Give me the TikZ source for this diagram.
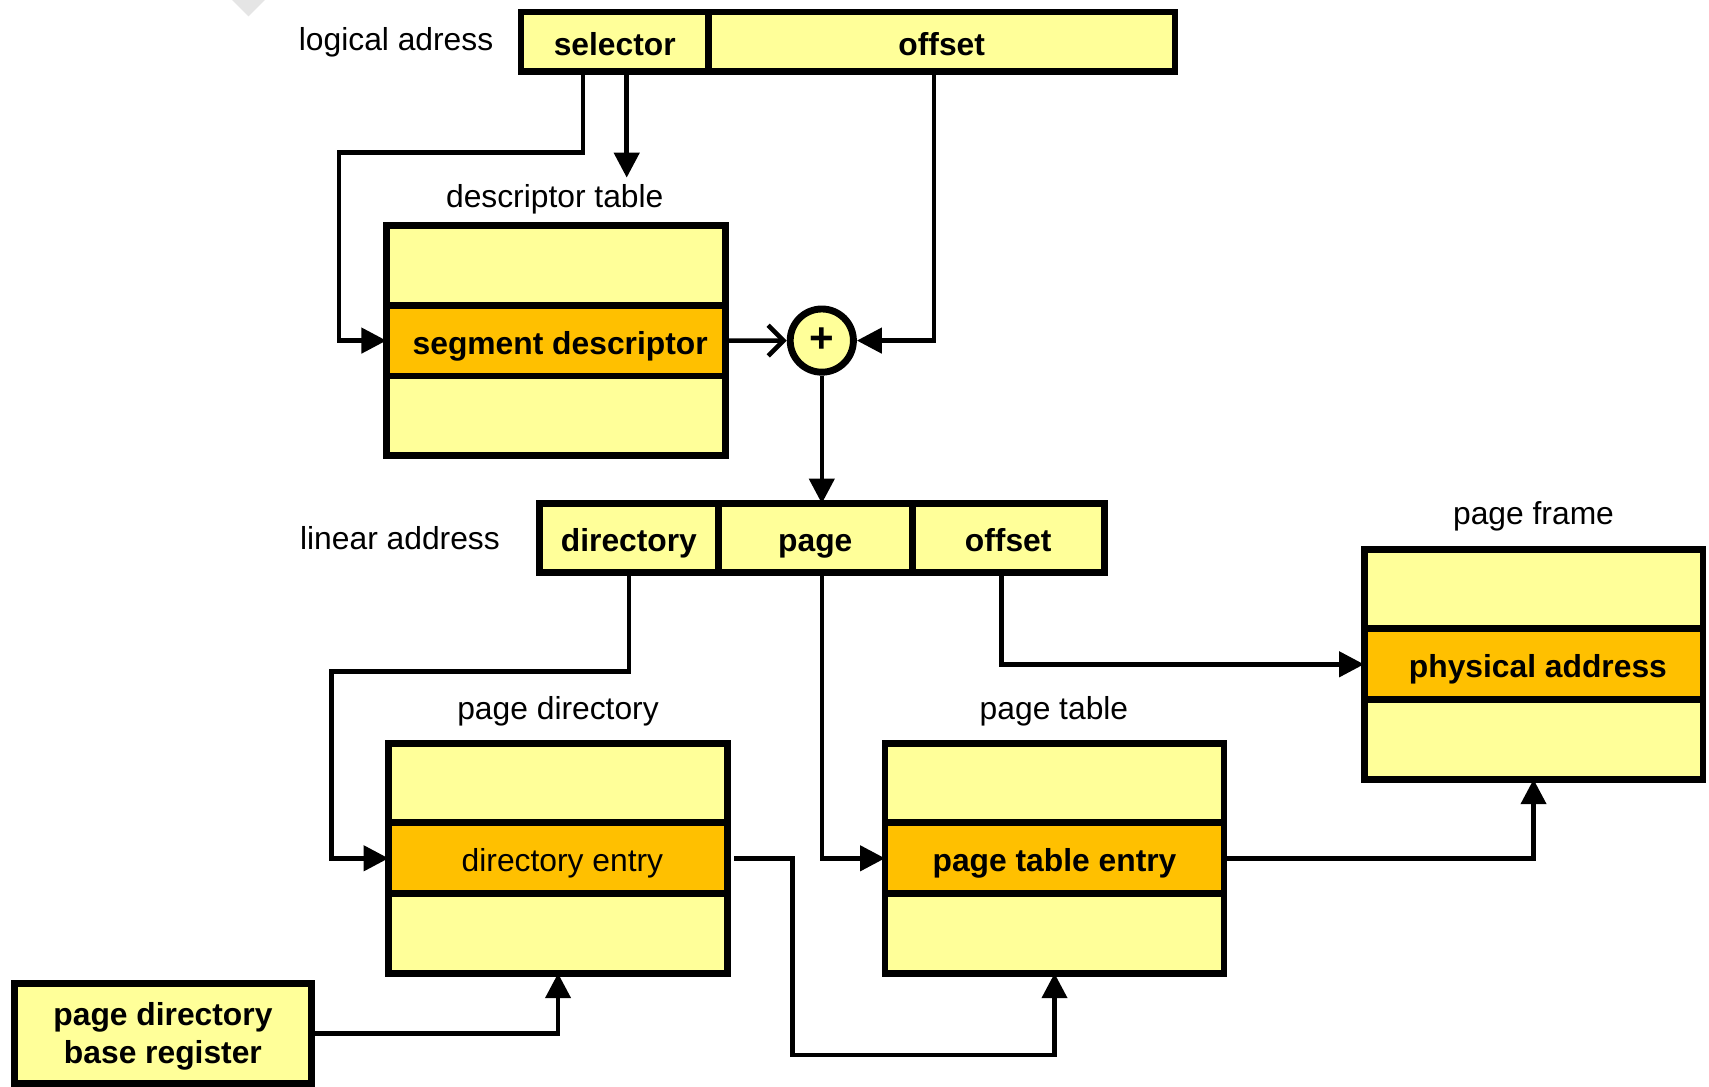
\documentclass[tikz,border=0pt]{standalone}
\usepackage{fontspec}
\setmainfont{Liberation Sans}
\usetikzlibrary{positioning,arrows.meta}
\definecolor{cellyel}{HTML}{FFFF99}
\definecolor{entryorg}{HTML}{FFC000}
\newcommand\figfont{\fontsize{8.3}{10}\selectfont}
\tikzset{
	field/.style={draw,fill=cellyel,line width=1.8pt,inner sep=0pt,outer sep=0pt,text height=0.82em,text depth=0.12em,font=\figfont\bfseries},
	tabrow/.style={draw,fill=cellyel,line width=1.8pt,inner sep=0pt,outer sep=0pt,text height=0.82em,text depth=0.12em,minimum width=3.11cm,minimum height=0.73cm},
	tabentry/.style={tabrow,fill=entryorg,minimum height=0.65cm},
	link/.style={line width=1.2pt},
	fwd/.style={-{Triangle[length=6.5pt,width=6.5pt]}},
}
\begin{document}
\begin{tikzpicture}[font=\figfont]
		\useasboundingbox (0,0) rectangle (15.68,-9.97);
		\fill[gray!20] (2.13,0)--(2.43,0)--(2.28,-0.15)--cycle;
		% logical address
		\node[field,minimum width=1.72cm,minimum height=0.55cm] (lsel) at (5.64,-0.385) {selector};
		\node[field,minimum width=4.28cm,minimum height=0.55cm,right=0pt of lsel] (loff) {offset};
		\node[left=0.13cm of lsel] (llab) {logical adress};
		% descriptor table
		\node[tabrow] (dttop) at (5.10,-2.435) {};
		\node[tabentry,below=0pt of dttop,font=\figfont\bfseries] (segdesc) {\hspace{0.08cm}segment descriptor};
		\node[tabrow,below=0pt of segdesc] (dtbot) {};
		\node (dtcap) at (5.09,-1.83) {descriptor table};
		\node[draw,circle,fill=cellyel,line width=1.8pt,minimum size=0.58cm,inner sep=0pt,font=\fontsize{11}{12}\selectfont\bfseries] (adder) at (7.54,-3.125) {+};
		% linear address
		\node[field,minimum width=1.64cm,minimum height=0.63cm] (ldir) at (5.77,-4.935) {directory};
		\node[field,minimum width=1.78cm,minimum height=0.63cm,right=0pt of ldir] (lpage) {page};
		\node[field,minimum width=1.76cm,minimum height=0.63cm,right=0pt of lpage] (loffs) {offset};
		\node[left=0.24cm of ldir] (linlab) {linear address};
		% page directory
		\node[tabrow] (pdtop) at (5.12,-7.185) {};
		\node[tabentry,below=0pt of pdtop] (dirent) {\hspace{0.08cm}directory entry};
		\node[tabrow,below=0pt of dirent] (pdbot) {};
		\node (pdcap) at (5.12,-6.53) {page directory};
		% page table
		\node[tabrow] (pttop) at (9.675,-7.185) {};
		\node[tabentry,below=0pt of pttop,font=\figfont\bfseries] (ptent) {page table entry};
		\node[tabrow,below=0pt of ptent] (ptbot) {};
		\node (ptcap) at (9.67,-6.53) {page table};
		% page frame
		\node[tabrow] (pftop) at (14.07,-5.405) {};
		\node[tabentry,below=0pt of pftop,font=\figfont\bfseries] (phys) {\hspace{0.08cm}physical address};
		\node[tabrow,below=0pt of phys] (pfbot) {};
		\node (pfcap) at (14.07,-4.74) {page frame};
		\node[field,minimum width=2.73cm,minimum height=0.92cm,align=center,text height=,text depth=0pt] (pdbr) at (1.495,-9.48) {page directory\\base register};
		% connectors
		\draw[link,fwd] ([xshift=-.29cm]lsel.south) |- (3.11,-1.40) |- (segdesc.west);
		\draw[link,fwd] ([xshift=.11cm]lsel.south) -- ++(0,-0.97);
		\draw[link,-{Straight Barb[length=4pt,width=8pt]}] (segdesc.east) -- (adder.west);
		\draw[link,fwd] ([xshift=-.07cm]loff.south) |- (adder.east);
		\draw[link,fwd] (adder.south) -- (adder.south |- ldir.north);
		\draw[link,fwd] (ldir.south) |- (3.04,-6.16) |- (dirent.west);
		\draw[link,fwd] (adder.south |- lpage.south) |- (ptent.west);
		\draw[link,fwd] ([xshift=-.06cm]loffs.south) |- (phys.west);
		\draw[link,fwd] (pdbr.east) -| (pdbot.south);
		\draw[link,fwd] ([xshift=.06cm]dirent.east) -| (7.27,-9.68) -| (ptbot.south);
		\draw[link,fwd] (ptent.east) -| (pfbot.south);
	\end{tikzpicture}
\end{document}
